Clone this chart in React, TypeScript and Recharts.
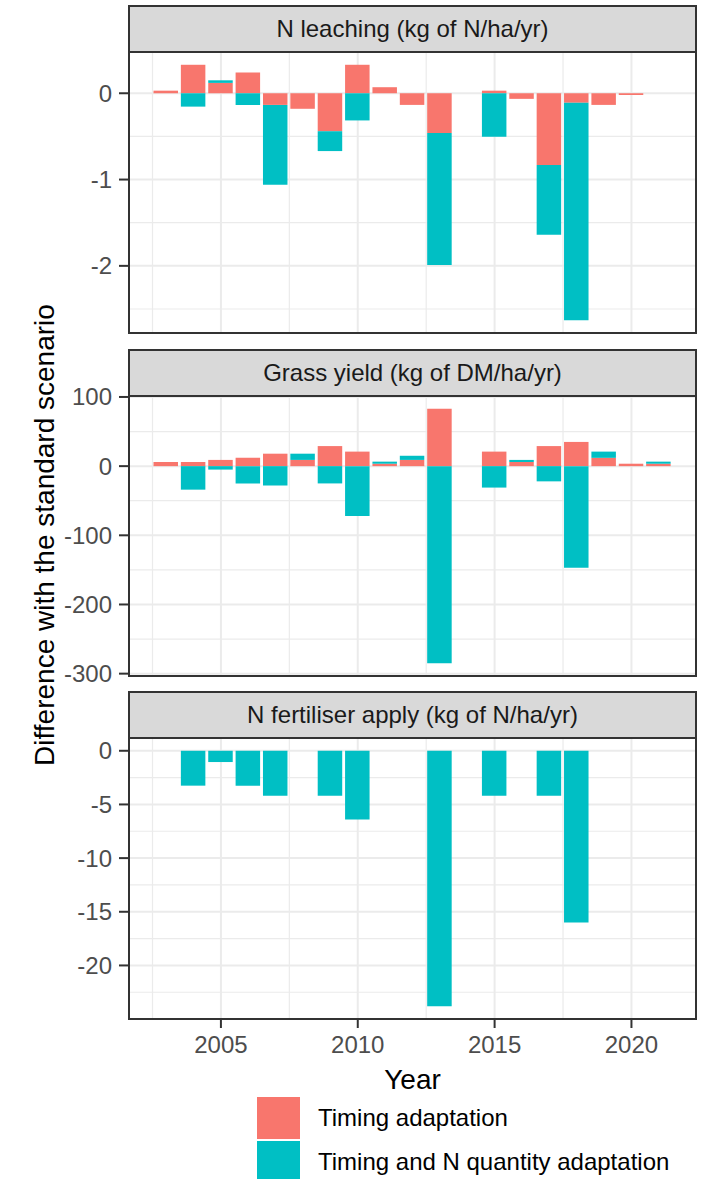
import React from "react";
import { BarChart, Bar, XAxis, YAxis, CartesianGrid } from "recharts";

// ---- data ----
const years = [
  2003, 2004, 2005, 2006, 2007, 2008, 2009, 2010, 2011, 2012,
  2013, 2014, 2015, 2016, 2017, 2018, 2019, 2020, 2021,
];

// N leaching (kg of N/ha/yr)
const leachTiming = [
  0.03, 0.33, 0.12, 0.24, -0.135, -0.18, -0.44, 0.33, 0.07, -0.135,
  -0.46, 0, 0.03, -0.065, -0.83, -0.11, -0.135, -0.02, 0,
];
const leachBoth = [
  0, -0.155, 0.03, -0.135, -0.925, 0, -0.23, -0.315, 0, 0,
  -1.53, 0, -0.505, 0, -0.81, -2.52, 0, 0, 0,
];

// Grass yield (kg of DM/ha/yr)
const grassTiming = [
  6, 6, 9, 12, 18, 9, 29, 21, 3.5, 9,
  83, 0, 21, 6, 29, 35, 12, 3.5, 3.5,
];
const grassBoth = [
  0, -34, -5, -25, -28, 9, -25, -72, 3, 6,
  -285, 0, -31, 3, -22, -147, 9, 0, 3,
];

// N fertiliser apply (kg of N/ha/yr)
const fertTiming = [
  0, 0, 0, 0, 0, 0, 0, 0, 0, 0,
  0, 0, 0, 0, 0, 0, 0, 0, 0,
];
const fertBoth = [
  0, -3.25, -1.05, -3.25, -4.2, 0, -4.2, -6.4, 0, 0,
  -23.8, 0, -4.2, 0, -4.2, -16, 0, 0, 0,
];

const leachTicks = [0, -1, -2];
const leachMinor = [-0.5, -1.5, -2.5];
const grassTicks = [100, 0, -100, -200, -300];
const grassMinor = [50, -50, -150, -250];
const fertTicks = [0, -5, -10, -15, -20];
const fertMinor = [-2.5, -7.5, -12.5, -17.5, -22.5];
const yearTicks = [2005, 2010, 2015, 2020];
const yearMinor = [2002.5, 2007.5, 2012.5, 2017.5];

const seriesNames = ["Timing adaptation", "Timing and N quantity adaptation"];
const COLORS = ["#F8766D", "#00BFC4"];

// ---- layout ----
const FONT = '"Liberation Sans", Arial, sans-serif';
const PLOT_LEFT = 128;
const PLOT_RIGHT = 697;
const PLOT_W = PLOT_RIGHT - PLOT_LEFT;
const STRIP_H = 47;
const BAR_W = 24.5;
const PAD = 16; // room so edge tick labels are not clipped by the svg

// ggplot-style 5% expansion around the stacked range
function expandRange(lo: number, hi: number): [number, number] {
  const r = hi - lo;
  return [lo - 0.05 * r, hi + 0.05 * r];
}

const xDomain = expandRange(years[0] - 0.45, years[years.length - 1] + 0.45);

function stackedDomain(a: number[], b: number[]): [number, number] {
  let lo = 0;
  let hi = 0;
  a.forEach((v, i) => {
    const w = b[i];
    const pos = Math.max(v, 0) + Math.max(w, 0);
    const neg = Math.min(v, 0) + Math.min(w, 0);
    hi = Math.max(hi, pos);
    lo = Math.min(lo, neg);
  });
  return expandRange(lo, hi);
}

type PanelProps = {
  title: string;
  timing: number[];
  both: number[];
  ticks: number[];
  minor: number[];
  top: number;
  height: number;
  showX?: boolean;
};

function Panel({ title, timing, both, ticks, minor, top, height, showX }: PanelProps) {
  const rows = years.map((year, i) => ({ year, timing: timing[i], both: both[i] }));
  const yDomain = stackedDomain(timing, both);
  const xAxisH = showX ? 60 : 0;

  return (
    <>
      {/* strip */}
      <div
        style={{
          position: "absolute",
          left: PLOT_LEFT,
          top: top - STRIP_H,
          width: PLOT_W,
          height: STRIP_H + 1,
          boxSizing: "border-box",
          background: "#d9d9d9",
          border: "2px solid #333333",
          display: "flex",
          alignItems: "center",
          justifyContent: "center",
          fontSize: 24,
          color: "#1a1a1a",
        }}
      >
        {title}
      </div>

      <div style={{ position: "absolute", left: 0, top: top - PAD }}>
        <BarChart
          width={708}
          height={height + 2 * PAD + xAxisH}
          data={rows}
          stackOffset="sign"
          barGap={0}
          margin={{ top: PAD, right: 708 - PLOT_RIGHT, bottom: PAD, left: 0 }}
        >
          <CartesianGrid
            stroke="#ebebeb"
            strokeWidth={1.2}
            horizontalValues={minor}
            verticalValues={yearMinor}
          />
          <CartesianGrid
            stroke="#ebebeb"
            strokeWidth={2}
            horizontalValues={ticks}
            verticalValues={yearTicks}
          />
          <XAxis
            dataKey="year"
            type="number"
            domain={xDomain}
            allowDataOverflow
            ticks={yearTicks}
            interval={0}
            hide={!showX}
            height={xAxisH || 1}
            axisLine={false}
            tickSize={9}
            tickMargin={8}
            tickLine={{ stroke: "#333333", strokeWidth: 2 }}
            tick={{ fill: "#4d4d4d", fontSize: 24, fontFamily: FONT }}
          />
          <YAxis
            type="number"
            domain={yDomain}
            allowDataOverflow
            ticks={ticks}
            interval={0}
            width={PLOT_LEFT}
            axisLine={false}
            tickSize={9}
            tickMargin={7}
            tickLine={{ stroke: "#333333", strokeWidth: 2 }}
            tick={{ fill: "#4d4d4d", fontSize: 24, fontFamily: FONT }}
          />
          <Bar dataKey="timing" name={seriesNames[0]} stackId="s" fill={COLORS[0]} barSize={BAR_W} isAnimationActive={false} />
          <Bar dataKey="both" name={seriesNames[1]} stackId="s" fill={COLORS[1]} barSize={BAR_W} isAnimationActive={false} />
        </BarChart>
      </div>

      {/* panel border */}
      <div
        style={{
          position: "absolute",
          left: PLOT_LEFT,
          top: top - 1,
          width: PLOT_W,
          height: height + 2,
          boxSizing: "border-box",
          border: "2px solid #333333",
          pointerEvents: "none",
        }}
      />
    </>
  );
}

export default function App() {
  return (
    <div
      style={{
        position: "absolute",
        left: 0,
        top: 0,
        width: 708,
        height: 1179,
        overflow: "hidden",
        background: "#ffffff",
        fontFamily: FONT,
      }}
    >
      <Panel title="N leaching (kg of N/ha/yr)" timing={leachTiming} both={leachBoth} ticks={leachTicks} minor={leachMinor} top={52} height={281} />
      <Panel title="Grass yield (kg of DM/ha/yr)" timing={grassTiming} both={grassBoth} ticks={grassTicks} minor={grassMinor} top={396} height={280} />
      <Panel title="N fertiliser apply (kg of N/ha/yr)" timing={fertTiming} both={fertBoth} ticks={fertTicks} minor={fertMinor} top={738} height={281} showX />

      {/* axis titles */}
      <div
        style={{
          position: "absolute",
          left: 45,
          top: 535,
          transform: "translate(-50%, -50%) rotate(-90deg)",
          whiteSpace: "nowrap",
          fontSize: 28,
          color: "#000",
        }}
      >
        Difference with the standard scenario
      </div>
      <div
        style={{
          position: "absolute",
          left: (PLOT_LEFT + PLOT_RIGHT) / 2,
          top: 1080,
          transform: "translate(-50%, -50%)",
          fontSize: 28,
          color: "#000",
        }}
      >
        Year
      </div>

      {/* legend */}
      {seriesNames.map((name, i) => (
        <div
          key={name}
          style={{ position: "absolute", left: 257, top: 1097 + i * 44, height: 42, display: "flex", alignItems: "center" }}
        >
          <div style={{ width: 43, height: 42, background: COLORS[i] }} />
          <span style={{ marginLeft: 18, fontSize: 24, color: "#000", whiteSpace: "nowrap" }}>{name}</span>
        </div>
      ))}
    </div>
  );
}
